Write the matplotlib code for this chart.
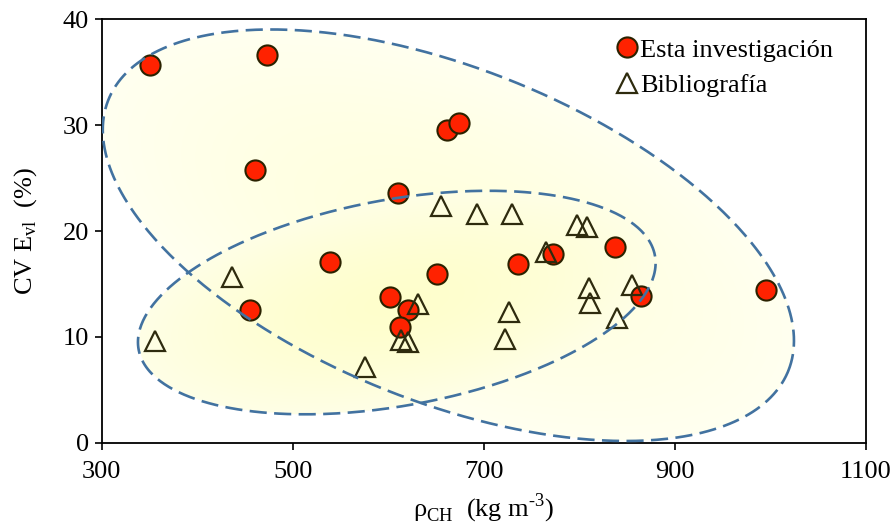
import numpy as np
import matplotlib
matplotlib.use("Agg")
import matplotlib.pyplot as plt
from matplotlib.colors import to_rgb

plt.rcParams['font.family'] = ['Liberation Serif', 'DejaVu Serif']
plt.rcParams['mathtext.fontset'] = 'custom'
plt.rcParams['mathtext.rm'] = 'Liberation Serif'

# Esta investigación (círculos rojos)
esta_x = [351, 473, 461, 662, 674, 610, 539, 455, 602, 621, 612, 651, 736, 773, 837, 865, 995]
esta_y = [35.7, 36.6, 25.8, 29.5, 30.2, 23.6, 17.1, 12.5, 13.8, 12.5, 10.9, 15.9, 16.9, 17.8, 18.5, 13.9, 14.4]

# Bibliografía (triángulos)
biblio_x = [356, 437, 576, 613, 621, 631, 655, 693, 730, 765, 798, 808, 810, 811, 855, 839, 726, 722]
biblio_y = [9.6, 15.7, 7.2, 9.7, 9.5, 13.1, 22.4, 21.6, 21.6, 18.0, 20.6, 20.4, 14.6, 13.2, 14.9, 11.8, 12.4, 9.8]

# elipses: centro (x, y), semiejes (en unidades de x), angulo (grados)
elipse_ext = (663, 19.6, 383, 174.6, -21.7)
elipse_int = (609, 13.25, 274.6, 107.9, 10.3)

x_ticks = [300, 500, 700, 900, 1100]
y_ticks = [0, 10, 20, 30, 40]

fig = plt.figure(figsize=(8.92, 5.25), dpi=100)
ax = fig.add_axes([0.1138, 0.1562, 0.857, 0.8076])
ax.set_xlim(300, 1100)
ax.set_ylim(0, 40)

# relacion de escala y/x en pixeles
aspecto = (0.8076 * 5.25 / 40) / (0.857 * 8.92 / 800)

xs = np.linspace(300, 1100, 900)
ys = np.linspace(0, 40, 500)
X, Y = np.meshgrid(xs, ys)


def dist_elipse(e):
    cx, cy, a, b, ang = e
    t = np.deg2rad(ang)
    dx = X - cx
    dy = (Y - cy) * aspecto
    u = dx * np.cos(t) + dy * np.sin(t)
    v = -dx * np.sin(t) + dy * np.cos(t)
    return np.sqrt((u / a) ** 2 + (v / b) ** 2)


def relleno(e, c_centro, c_borde, z):
    rho = dist_elipse(e)
    c0 = np.array(to_rgb(c_centro))
    c1 = np.array(to_rgb(c_borde))
    k = (np.clip(rho, 0, 1) ** 1.6)[..., None]
    img = np.zeros(X.shape + (4,))
    img[..., :3] = c0 * (1 - k) + c1 * k
    img[..., 3] = (rho <= 1).astype(float)
    ax.imshow(img, extent=(300, 1100, 0, 40), origin='lower', aspect='auto',
              interpolation='bilinear', zorder=z)


def contorno(e):
    cx, cy, a, b, ang = e
    t = np.deg2rad(ang)
    s = np.linspace(0, 2 * np.pi, 500)
    u = a * np.cos(s)
    v = b * np.sin(s)
    x = cx + u * np.cos(t) - v * np.sin(t)
    y = cy + (u * np.sin(t) + v * np.cos(t)) / aspecto
    ax.plot(x, y, color='#4272A0', lw=1.9, linestyle=(0, (6.5, 2.8)), zorder=6)


relleno(elipse_ext, '#FFFFDE', '#FFFFF0', 1)
relleno(elipse_int, '#FEFECC', '#FFFFE6', 2)

ax.plot(esta_x, esta_y, 'o', ms=14.5, mfc='#FF2200', mec='#2A2200', mew=1.5,
        ls='none', zorder=4, label='Esta investigación')
ax.plot(biblio_x, biblio_y, '^', ms=14, mfc='none', mec='#2E2B0E', mew=1.6,
        ls='none', zorder=5, label='Bibliografía')

contorno(elipse_ext)
contorno(elipse_int)

ax.set_xticks(x_ticks)
ax.set_yticks(y_ticks)
ax.tick_params(direction='out', length=5, width=1.2, labelsize=19, pad=4)
ax.tick_params(axis='x', pad=8)
for sp in ax.spines.values():
    sp.set_linewidth(1.3)
    sp.set_color('black')

ax.set_xlabel('ρ$_{\\mathregular{CH}}$  (kg m$^{\\mathregular{\u20103}}$)', fontsize=19, labelpad=6)
ax.set_ylabel(r'CV E$_{\mathregular{vl}}$  (%)', fontsize=19, labelpad=17)

ax.legend(loc='upper left', bbox_to_anchor=(0.66, 0.98), frameon=False,
          fontsize=19, handlelength=0.8, handletextpad=0.1, labelspacing=0.45,
          borderaxespad=0, markerscale=1.0)

fig.savefig('out.png', dpi=100)
